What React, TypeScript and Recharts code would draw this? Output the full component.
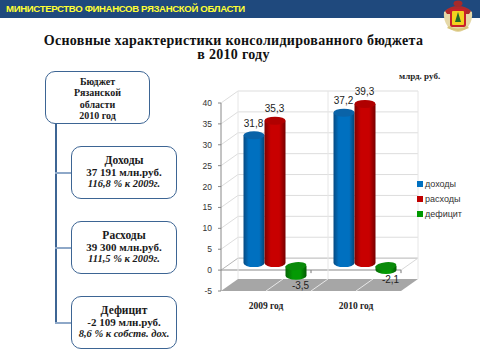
import React from "react";
import { BarChart, Bar, XAxis, YAxis, CartesianGrid, Legend, LabelList } from "recharts";

const categories = ["2009 год", "2010 год"];
const dokhody = [31.8, 37.2];
const raskhody = [35.3, 39.3];
const deficit = [-3.5, -2.1];
const yTicks = [-5, 0, 5, 10, 15, 20, 25, 30, 35, 40];
const seriesNames = ["доходы", "расходы", "дефицит"];
const seriesColors = ["#0070C0", "#C00000", "#009900"];

const tableRows = categories.map((c, i) => ({ c, a: dokhody[i], b: raskhody[i], d: deficit[i] }));

const headerText = "МИНИСТЕРСТВО ФИНАНСОВ РЯЗАНСКОЙ ОБЛАСТИ";
const titleLines = ["Основные характеристики консолидированного бюджета", "в 2010 году"];
const unitText = "млрд. руб.";
const rootLines = ["Бюджет", "Рязанской", "области", "2010 год"];
const cards = [
  { top: 146, a: "Доходы", b: "37 191 млн.руб.", c: "116,8 % к 2009г." },
  { top: 221, a: "Расходы", b: "39 300 млн.руб.", c: "111,5 % к 2009г." },
  { top: 296, a: "Дефицит", b: "-2 109 млн.руб.", c: "8,6 % к собств. дох." },
];

const BACK_X = 17;
const BACK_Y = -12;
const serif = "'Liberation Serif', serif";
const sans = "'Liberation Sans', sans-serif";
const BORDER = "#3D6594";

const fmt = (v: number) => String(v).replace(".", ",");

function Cylinder(props: any) {
  const { x, y, width, height, gid, topFill, value } = props;
  const y0 = Math.min(y, y + height);
  const y1 = Math.max(y, y + height);
  const neg = value < 0;
  const rx = width / 2;
  const ry = 4;
  const cx = x + 8.5 + rx;
  const top = y0 + (neg ? -4 : -2);
  const bot = y1 + (neg ? -9 : -7);
  const d = `M${cx - rx},${top} L${cx - rx},${bot} A${rx},${ry} 0 0 0 ${cx + rx},${bot} L${cx + rx},${top} Z`;
  return (
    <g>
      <path d={d} fill={`url(#${gid})`} />
      <ellipse cx={cx} cy={top} rx={rx} ry={ry} fill={topFill} transform={neg ? `rotate(-6 ${cx} ${top})` : undefined} />
    </g>
  );
}

function gridLine(p: any) {
  const { x1, x2, y1, index } = p;
  const v = yTicks[index];
  const bx = BACK_X;
  const by = BACK_Y;
  const major = v === 0;
  const col = major ? "#B5B5B5" : "#DDDDDD";
  return (
    <g key={`g${index}`}>
      {v === -5 && (
        <polygon
          points={`${x1},${y1} ${x2},${y1} ${x2 + bx},${y1 + by} ${x1 + bx},${y1 + by}`}
          fill="#A6A6A6"
        />
      )}
      {v !== -5 && (
        <polyline
          points={`${x1},${y1} ${x1 + bx},${y1 + by} ${x2 + bx},${y1 + by}`}
          fill="none"
          stroke={col}
          strokeWidth={1}
        />
      )}
      {v === 0 && (
        <>
          <line x1={x1} x2={x2} y1={y1} y2={y1} stroke="#B0B0B0" strokeWidth={1.5} />
          <line x1={x2} x2={x2 + bx} y1={y1} y2={y1 + by} stroke="#D8D8D8" />
          <line x1={(x1 + x2) / 2} x2={(x1 + x2) / 2} y1={y1} y2={y1 + 3} stroke="#777" />
          <line x1={x2} x2={x2} y1={y1} y2={y1 + 3} stroke="#777" />
        </>
      )}
    </g>
  );
}

function vertLine(p: any) {
  const { x1, y1, y2, index } = p;
  const bottom = Math.max(y1, y2);
  const top = Math.min(y1, y2);
  const wall = index % 2 === 0;
  const inner = index > 0 && index < 4;
  return (
    <g key={`v${index}`}>
      {wall && <line x1={x1 + BACK_X} x2={x1 + BACK_X} y1={top + BACK_Y} y2={bottom + BACK_Y} stroke="#E6E6E6" />}
      {inner && <line x1={x1} x2={x1 + BACK_X} y1={bottom} y2={bottom + BACK_Y} stroke="#E8E8E8" />}
    </g>
  );
}

function verticalCoords(p: any) {
  const { left, width } = p.offset;
  return [0, 1, 2, 3, 4].map((k) => left + (width * k) / 4);
}

function legendContent(p: any) {
  return (
    <div style={{ fontFamily: sans, fontSize: 9, color: "#333" }}>
      {(p.payload || []).map((e: any) => (
        <div key={e.value} style={{ display: "flex", alignItems: "center", height: 15 }}>
          <span style={{ width: 6, height: 6, background: e.color, marginRight: 2, display: "inline-block" }} />
          {e.value}
        </div>
      ))}
    </div>
  );
}

function valueLabel(dx: number, dy: number) {
  return (p: any) => {
    const { x, y, width, height, value } = p;
    const yMin = Math.min(y, y + height);
    const yMax = Math.max(y, y + height);
    const yy = value < 0 ? yMax : yMin;
    return (
      <text x={x + width / 2 + dx} y={yy + dy} textAnchor="middle" dominantBaseline="central" fontFamily={sans} fontSize={10} fill="#222">
        {fmt(value)}
      </text>
    );
  };
}

function Card({ top, a, b, c }: { top: number; a: string; b: string; c: string }) {
  return (
    <div style={{ position: "absolute", left: 71, top, width: 104, height: 51, border: `1.3px solid ${BORDER}`, borderRadius: 10, background: "#fff", fontFamily: serif, fontWeight: 700, textAlign: "center", color: "#1a1a1a", whiteSpace: "nowrap" }}>
      <div style={{ fontSize: 11.5, lineHeight: "12px", marginTop: 7 }}>{a}</div>
      <div style={{ fontSize: 11, lineHeight: "12px" }}>{b}</div>
      <div style={{ fontSize: 10.5, lineHeight: "12px", fontStyle: "italic" }}>{c}</div>
    </div>
  );
}

function Crest() {
  return (
    <svg width={32} height={33} style={{ position: "absolute", left: 442, top: 0 }} viewBox="0 0 32 33">
      <path d="M2,12 Q1,20 6,27 Q12,32 16,32 Q20,32 26,27 Q31,20 30,12 Q24,7 16,7 Q8,7 2,12 Z" fill="#E6D9A8" />
      <path d="M3,11 Q8,6 16,6 Q24,6 29,11 L27,14 L5,14 Z" fill="#B02A2A" />
      <rect x={8} y={9} width={16} height={18} rx={2} fill="#C8202A" />
      <rect x={10} y={11} width={12} height={14} rx={1} fill="#F2D21F" />
      <path d="M16,12 L19,22 L13,22 Z" fill="#1F6B2A" />
      <ellipse cx={16} cy={3.5} rx={4.5} ry={3} fill="#A52A2A" />
      <path d="M5,28 Q16,34 27,28 L25,26 Q16,31 7,26 Z" fill="#D8C47A" />
    </svg>
  );
}

export default function App() {
  return (
    <div style={{ position: "absolute", left: 0, top: 0, width: 480, height: 360, background: "#fff", overflow: "hidden" }}>
      <div style={{ position: "absolute", left: 0, top: 0, width: 480, height: 18, background: "#1F497D" }} />
      <div style={{ position: "absolute", left: 6, top: 0, height: 18, lineHeight: "17px", fontFamily: sans, fontWeight: 700, fontSize: 9.6, letterSpacing: -0.35, color: "#FFFF33", whiteSpace: "nowrap" }}>{headerText}</div>
      <Crest />
      {titleLines.map((t, i) => (
        <div key={t} style={{ position: "absolute", left: 0, width: 467, top: 33 + i * 14, lineHeight: "15px", textAlign: "center", fontFamily: serif, fontWeight: 700, fontSize: 14, letterSpacing: 0.3, color: "#111", whiteSpace: "nowrap" }}>{t}</div>
      ))}
      <div style={{ position: "absolute", left: 399, top: 71, lineHeight: "10px", fontFamily: serif, fontWeight: 700, fontSize: 9, color: "#222", whiteSpace: "nowrap" }}>{unitText}</div>

      <div style={{ position: "absolute", left: 54.5, top: 124, width: 2, height: 200, background: BORDER }} />
      {cards.map((k) => (
        <div key={k.top} style={{ position: "absolute", left: 55, top: k.top + 26, width: 18, height: 2, background: "#8EA8C8" }} />
      ))}
      <div style={{ position: "absolute", left: 45, top: 71, width: 103, height: 47, border: `1.3px solid ${BORDER}`, borderRadius: 10, background: "#fff", fontFamily: serif, fontWeight: 700, fontSize: 10, lineHeight: "11.4px", textAlign: "center", color: "#1a1a1a", paddingTop: 4 }}>
        {rootLines.map((l) => (
          <div key={l} style={{ height: 11.4 }}>{l}</div>
        ))}
      </div>
      {cards.map((k) => (
        <Card key={k.top} {...k} />
      ))}

      <div style={{ position: "absolute", left: 0, top: 0 }}>
        <BarChart
          width={480}
          height={360}
          data={tableRows}
          margin={{ left: 191, right: 19, top: 103, bottom: 39 }}
          barCategoryGap={14}
          barGap={0}
        >
          <defs>
            <linearGradient id="gBlue" x1="0" x2="1" y1="0" y2="0">
              <stop offset="0" stopColor="#064A82" />
              <stop offset="0.25" stopColor="#0070C0" />
              <stop offset="0.75" stopColor="#0070C0" />
              <stop offset="1" stopColor="#054676" />
            </linearGradient>
            <linearGradient id="gRed" x1="0" x2="1" y1="0" y2="0">
              <stop offset="0" stopColor="#7E0000" />
              <stop offset="0.3" stopColor="#C80000" />
              <stop offset="0.7" stopColor="#C80000" />
              <stop offset="1" stopColor="#760000" />
            </linearGradient>
            <linearGradient id="gGreen" x1="0" x2="1" y1="0" y2="0">
              <stop offset="0" stopColor="#056605" />
              <stop offset="0.35" stopColor="#049A04" />
              <stop offset="0.7" stopColor="#049A04" />
              <stop offset="1" stopColor="#045A04" />
            </linearGradient>
          </defs>
          <CartesianGrid horizontal={gridLine as any} vertical={vertLine as any} verticalCoordinatesGenerator={verticalCoords as any} />
          <XAxis dataKey="c" axisLine={false} tickLine={false} height={30} tickMargin={5} interval={0} tick={{ fontFamily: serif, fontWeight: 700, fontSize: 9.5, fill: "#222" }} />
          <YAxis domain={[-5, 40]} ticks={yTicks} interval={0} width={30} axisLine={{ stroke: "#888" }} tickLine={{ stroke: "#888" }} tickSize={3} tickMargin={6} tick={{ fontFamily: sans, fontSize: 8.5, fill: "#333" }} />
          <Legend
            layout="vertical"
            align="right"
            verticalAlign="top"
            itemSorter={null as any}
            content={legendContent as any}
            wrapperStyle={{ left: 417, top: 176, width: 60, right: "auto", bottom: "auto" }}
          />
          <Bar dataKey="a" name={seriesNames[0]} fill={seriesColors[0]} isAnimationActive={false} shape={(p: any) => <Cylinder {...p} gid="gBlue" topFill="#0A63A8" />}>
            <LabelList dataKey="a" content={valueLabel(8, -14) as any} />
          </Bar>
          <Bar dataKey="b" name={seriesNames[1]} fill={seriesColors[1]} isAnimationActive={false} shape={(p: any) => <Cylinder {...p} gid="gRed" topFill="#B00000" />}>
            <LabelList dataKey="b" content={valueLabel(8, -14) as any} />
          </Bar>
          <Bar dataKey="d" name={seriesNames[2]} fill={seriesColors[2]} isAnimationActive={false} shape={(p: any) => <Cylinder {...p} gid="gGreen" topFill="#0A8A0A" />}>
            <LabelList dataKey="d" content={valueLabel(13, 1) as any} />
          </Bar>
        </BarChart>
      </div>
    </div>
  );
}
